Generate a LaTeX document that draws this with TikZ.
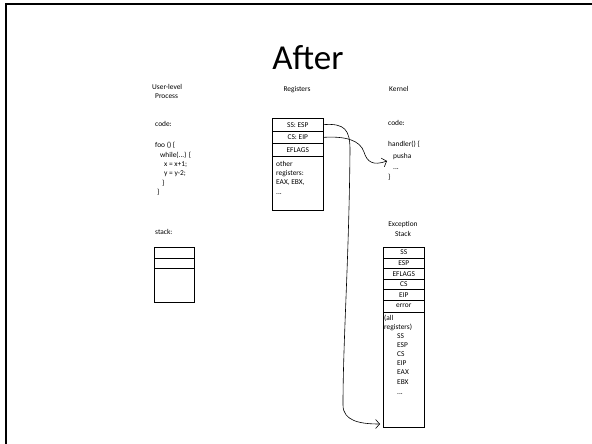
\documentclass[tikz,border=0pt]{standalone}
\usepackage{fontspec}
\setmainfont{Carlito}
\usetikzlibrary{arrows.meta}
\begin{document}
\begin{tikzpicture}[x=1pt,y=-1pt,
  txt/.style={font=\fontsize{7.4}{8.5}\selectfont, inner sep=0pt, anchor=base west},
  ctxt/.style={font=\fontsize{7.4}{8.5}\selectfont, inner sep=0pt, anchor=base},
  cell/.style={draw, line width=0.6pt, inner sep=0pt, anchor=north west, font=\fontsize{7.4}{8.5}\selectfont},
  conn/.style={line width=0.6pt, -{Straight Barb[length=4pt,width=9pt]}}]
\useasboundingbox (0,0) rectangle (592,444);
\draw[line width=2pt] (6,444) -- (6,4) -- (592,4);

% title
\node[font=\fontsize{35}{35}\selectfont, inner sep=0pt, anchor=base] (title) at (308,70) {After};

% user-level process
\node[txt] (ul1) at (152,89) {User-level};
\node[txt] (ul2) at (155,99) {Process};
\node[txt] (ucode) at (155,126) {code:};
\node[txt] (f1) at (155,147) {foo () \{};
\node[txt] (f2) at (160,157) {while(...) \{};
\node[txt] (f3) at (164,166) {x = x+1;};
\node[txt] (f4) at (164,175) {y = y-2;};
\node[txt] (f5) at (162,185) {\}};
\node[txt] (f6) at (157,194) {\}};
\node[txt] (ustack) at (155,234) {stack:};
\node[cell, minimum width=40, minimum height=11] (us1) at (154,247) {};
\node[cell, minimum width=40, minimum height=10] (us2) at (154,258) {};
\node[cell, minimum width=40, minimum height=34] (us3) at (154,268) {};

% registers
\node[ctxt] (reglbl) at (297,92) {Registers};
\node[cell, minimum width=51, minimum height=12.7] (ss) at (272,118) {SS: ESP};
\node[cell, minimum width=51, minimum height=12.7] (cs) at (272,130.7) {CS: EIP};
\node[cell, minimum width=51, minimum height=12.6] (efl) at (272,143.4) {EFLAGS};
\node[cell, minimum width=51, minimum height=54] (oth) at (272,156) {};
\node[txt] (o1) at (276,166) {other};
\node[txt] (o2) at (276,175) {registers:};
\node[txt] (o3) at (276,184) {EAX, EBX,};
\node[txt] (o4) at (276,194) {...};

% kernel
\node[txt] (kl) at (389,92) {Kernel};
\node[txt] (kcode) at (388,125) {code:};
\node[txt] (h1) at (388,146) {handler() \{};
\node[txt] (h2) at (393,158) {pusha};
\node[txt] (h3) at (393,169) {...};
\node[txt] (h4) at (388,179) {\}};

% exception stack
\node[ctxt] (ex1) at (403,226) {Exception};
\node[ctxt] (ex2) at (403,236) {Stack};
\node[cell, minimum width=41, minimum height=10.6] (e1) at (383,247) {SS};
\node[cell, minimum width=41, minimum height=10.6] (e2) at (383,257.6) {ESP};
\node[cell, minimum width=41, minimum height=10.6] (e3) at (383,268.2) {EFLAGS};
\node[cell, minimum width=41, minimum height=10.6] (e4) at (383,278.8) {CS};
\node[cell, minimum width=41, minimum height=10.6] (e5) at (383,289.4) {EIP};
\node[cell, minimum width=41, minimum height=11.6] (e6) at (383,300) {error};
\node[cell, minimum width=41, minimum height=115.4] (e7) at (383,311.6) {};
\node[txt] (a1) at (384,320) {(all};
\node[txt] (a2) at (384,329) {registers)};
\node[txt] (a3) at (397,338) {SS};
\node[txt] (a4) at (397,347) {ESP};
\node[txt] (a5) at (397,356) {CS};
\node[txt] (a6) at (397,365) {EIP};
\node[txt] (a7) at (397,374) {EAX};
\node[txt] (a8) at (397,384) {EBX};
\node[txt] (a9) at (397,394) {...};

% connectors
\coordinate (exin) at (380,424);
\coordinate (kin) at (387,161);
\draw[conn] (ss.east) .. controls (345,123) and (350,130) .. (350,150)
  .. controls (349,260) and (343,340) .. (343,405)
  .. controls (343,421) and (360,424) .. (exin);
\draw[conn] (cs.east) .. controls (345,136) and (360,140) .. (364,152)
  .. controls (367,162) and (373,166) .. (kin);
\end{tikzpicture}
\end{document}
